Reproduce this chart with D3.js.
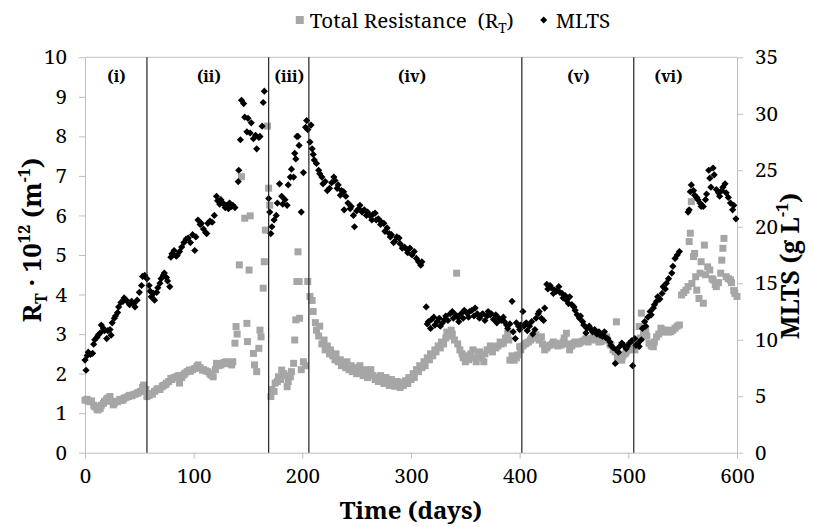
<!DOCTYPE html>
<html>
<head>
<meta charset="utf-8">
<script src="https://cdn.jsdelivr.net/npm/d3@7"></script>
<style>
  body { margin: 0; background: #fff; }
</style>
</head>
<body>
<svg id="chart" width="814" height="527"></svg>
<script>
// tick values
const dayTicks = [0, 100, 200, 300, 400, 500, 600];
const resistanceTicks = [0, 1, 2, 3, 4, 5, 6, 7, 8, 9, 10];
const mltsTicks = [0, 5, 10, 15, 20, 25, 30, 35];

// operating periods: boundaries (days) and labels
const periodBounds = [57, 169, 206, 402, 505];
const periodLabels = ['(i)', '(ii)', '(iii)', '(iv)', '(v)', '(vi)'];
const periodLabelDays = [29, 114, 188, 301, 454, 537];

// total resistance R_T (x 10^12 m-1), [day, value]
const resistance = [
  [0, 1.33], [2, 1.35], [3, 1.3], [5, 1.29], [6, 1.31], [8, 1.2], [9, 1.16], [11, 1.1], [12, 1.08],
  [14, 1.12], [15, 1.2], [17, 1.25], [18, 1.3], [20, 1.35], [21, 1.38], [23, 1.42], [24, 1.3],
  [26, 1.21], [27, 1.25], [29, 1.3], [30, 1.29], [32, 1.35], [33, 1.32], [35, 1.33], [36, 1.38],
  [38, 1.4], [40, 1.42], [41, 1.45], [43, 1.44], [44, 1.46], [46, 1.48], [48, 1.5], [49, 1.52],
  [51, 1.55], [53, 1.65], [54, 1.71], [56, 1.6], [57, 1.42],
  [59, 1.45], [61, 1.5], [62, 1.48], [64, 1.55], [66, 1.59], [67, 1.62], [69, 1.6], [71, 1.67],
  [72, 1.7], [74, 1.72], [75, 1.76], [77, 1.8], [79, 1.88], [80, 1.85], [82, 1.9], [84, 1.92],
  [86, 1.95], [87, 1.76], [89, 1.9], [91, 1.97], [92, 2.01], [94, 2.05], [96, 2.09], [97, 2.06],
  [99, 2.1], [101, 2.13], [103, 2.18], [104, 2.22], [106, 2.15], [108, 2.09], [109, 2.1], [111, 2.07],
  [113, 2.05], [115, 2.0], [116, 1.96], [118, 1.92], [120, 2.1], [121, 2.26], [123, 2.2], [125, 2.22],
  [126, 2.25], [128, 2.28], [130, 2.3], [131, 2.26], [133, 2.25], [135, 2.22], [136, 2.3], [138, 2.77],
  [139, 3.19], [140, 3.0], [142, 4.75], [144, 6.98], [147, 5.93], [149, 3.27], [149.5, 2.81],
  [151, 4.62], [152, 5.99], [155, 2.51], [156, 2.22], [158, 2.05], [160, 2.64], [161, 3.1],
  [162, 2.93], [164, 4.16], [165, 4.83], [166, 5.63], [168, 8.26], [169, 6.69], [170, 6.26],
  [171, 1.42], [172, 1.6], [174, 1.55], [175, 1.76], [177, 1.8], [178, 1.92], [180, 1.85], [181, 2.09],
  [183, 2.0], [184, 1.95], [186, 1.67], [187, 1.8], [189, 1.92], [190, 2.05], [192, 2.26], [193, 2.85],
  [194, 3.36], [195, 4.33], [196, 5.08], [197, 4.33], [197.5, 3.4], [199, 2.1], [201, 2.3],
  [203, 2.2], [205, 4.33],
  [207, 3.95], [209, 3.85], [210, 3.57], [212, 3.29], [213, 3.1], [215, 2.95], [216, 3.2], [218, 2.75],
  [220, 2.85], [221, 2.6], [223, 2.7], [225, 2.5], [226, 2.6], [228, 2.45], [230, 2.35], [231, 2.5],
  [233, 2.3], [235, 2.35], [236, 2.2], [238, 2.25], [240, 2.15], [241, 2.3], [243, 2.1], [245, 2.2],
  [246, 2.05], [248, 2.15], [250, 2.0], [251, 2.1], [253, 2.2], [255, 2.05], [256, 1.95], [258, 2.1],
  [260, 1.9], [262, 2.0], [263, 2.1], [265, 1.95], [267, 1.85], [268, 1.9], [270, 1.8], [272, 1.95],
  [273, 1.85], [275, 1.75], [277, 1.9], [278, 1.8], [280, 1.7], [282, 1.85], [283, 1.75], [285, 1.68],
  [287, 1.8], [288, 1.72], [290, 1.65], [292, 1.78], [293, 1.7], [295, 1.82], [297, 1.75], [298, 1.9],
  [300, 1.85], [302, 2.0], [303, 1.9], [305, 2.1], [307, 2.05], [308, 2.2], [310, 2.15], [312, 2.3],
  [313, 2.2], [315, 2.4], [317, 2.35], [318, 2.5], [320, 2.45], [322, 2.6], [323, 2.55], [325, 2.7],
  [327, 2.65], [328, 2.8], [330, 2.75], [332, 2.9], [333, 3.05], [335, 2.95], [337, 3.1], [338, 3.0],
  [340, 2.85], [342, 4.54], [343, 2.75], [345, 2.6], [347, 2.5], [348, 2.4], [350, 2.3], [352, 2.45],
  [353, 2.35], [355, 2.5], [357, 2.6], [358, 2.4], [360, 2.3], [362, 2.45], [363, 2.55], [365, 2.4],
  [367, 2.3], [368, 2.5], [370, 2.6], [372, 2.6], [373, 2.7], [375, 2.55], [377, 2.68], [378, 2.65],
  [380, 2.7], [382, 2.8], [383, 2.75], [385, 2.77], [387, 2.9], [389, 3.02], [390, 2.85], [391, 2.34],
  [393, 2.45], [395, 2.34], [397, 2.4], [398, 2.47], [400, 2.68], [401, 2.6],
  [403, 2.7], [405, 2.75], [406, 2.77], [408, 2.8], [410, 2.85], [411, 2.89], [413, 2.95], [415, 2.98],
  [416, 2.9], [418, 2.85], [420, 2.93], [421, 2.75], [423, 2.6], [425, 2.65], [426, 2.7], [428, 2.72],
  [430, 2.75], [431, 2.8], [433, 2.77], [435, 2.7], [436, 2.75], [438, 2.72], [440, 2.8], [441, 2.9],
  [443, 3.02], [444, 2.75], [446, 2.6], [448, 2.7], [450, 2.77], [451, 2.8], [453, 2.75], [455, 2.77],
  [456, 2.8], [458, 2.82], [460, 2.85], [461, 2.88], [463, 2.8], [465, 2.85], [466, 2.89], [468, 2.92],
  [470, 2.89], [471, 2.85], [473, 2.8], [475, 2.81], [476, 2.85], [478, 2.9], [480, 2.93], [481, 2.85],
  [483, 2.75], [484, 2.72], [486, 2.6], [488, 2.55], [489, 3.31], [490, 2.43], [492, 2.38], [494, 2.34],
  [495, 2.45], [497, 2.5], [498, 2.55], [500, 2.6], [502, 2.65], [503, 2.68], [505, 2.62],
  [506, 2.6], [508, 2.7], [510, 3.19], [511, 2.9], [512, 3.53], [514, 3.0], [516, 3.1], [517, 2.95],
  [519, 2.77], [521, 2.7], [523, 2.68], [524, 2.8], [526, 2.93], [528, 3.0], [530, 3.15], [531, 3.05],
  [533, 3.1], [535, 3.1], [537, 3.05], [539, 3.06], [541, 3.1], [543, 3.15], [545, 3.2], [547, 3.23],
  [549, 3.99], [551, 4.05], [553, 4.11], [555, 4.2], [556, 5.34], [557, 5.55], [558, 6.35], [558.5, 4.28],
  [560, 4.96], [561, 5.04], [562, 4.45], [563, 4.11], [565, 3.9], [566, 4.54], [567, 4.83], [569, 3.78],
  [570, 5.25], [571, 4.5], [573, 4.7], [575, 4.62], [577, 4.4], [578, 4.37], [580, 4.25], [581, 4.2],
  [583, 4.3], [585, 4.54], [586, 4.87], [587, 5.17], [588, 5.42], [590, 4.45], [592, 4.4], [594, 4.37],
  [595, 4.3], [597, 4.1], [598, 4.03], [600, 3.95]
];

// mixed liquor total solids (g L-1), [day, value]
const mlts = [
  [0, 8.2], [1, 7.3], [2, 8.6], [3, 8.9], [5, 8.7], [7, 8.8], [8, 9.6], [9, 10.0], [11, 10.2], [12, 10.4],
  [14, 10.6], [15, 11.3], [17, 11.0], [18, 10.8], [20, 10.1], [21, 10.8], [23, 10.9], [24, 10.4],
  [25, 11.5], [27, 11.9], [28, 12.1], [30, 12.4], [31, 12.9], [33, 13.3], [35, 13.4], [36, 13.7],
  [38, 13.5], [40, 13.3], [41, 13.1], [43, 13.4], [45, 13.2], [46, 12.9], [48, 13.5], [50, 14.2],
  [52, 14.8], [53, 15.6], [55, 15.7], [57, 15.4],
  [59, 14.8], [60, 14.3], [61, 13.8], [63, 14.1], [64, 13.5], [66, 14.2], [67, 14.6], [69, 15.0],
  [70, 15.4], [72, 15.7], [73, 15.9], [75, 15.5], [76, 15.2], [78, 14.7], [79, 17.3], [80, 17.6],
  [82, 17.9], [84, 17.4], [85, 17.5], [87, 17.8], [89, 18.2], [91, 18.6], [93, 18.9], [95, 19.0],
  [97, 18.6], [99, 19.3], [101, 17.9], [102, 19.1], [104, 20.6], [106, 20.2], [107, 20.3], [109, 19.8],
  [111, 19.5], [112, 19.4], [113, 20.3], [115, 20.5], [117, 20.4], [119, 21.0], [121, 22.7], [122, 22.3],
  [124, 22.0], [125, 22.4], [127, 22.1], [129, 21.7], [130, 21.9], [132, 21.6], [133, 22.1], [135, 21.8],
  [136, 21.9], [138, 21.7], [141, 24.0], [141.5, 25.0], [143, 27.7], [144, 31.2], [146, 30.9],
  [147, 29.7], [149, 28.4], [150, 29.6], [152, 28.3], [153, 29.2], [155, 27.8], [157, 28.1], [158, 26.9],
  [160, 27.9], [161, 28.0], [163, 28.9], [164, 31.0], [165, 32.0],
  [169, 22.5], [170, 21.3], [171, 19.4], [172, 20.0], [174, 20.6], [176, 21.0], [177, 22.1], [179, 23.8],
  [181, 22.7], [182, 22.0], [184, 22.4], [186, 21.9], [187, 23.7], [189, 24.4], [190, 25.1], [192, 24.4],
  [193, 26.5], [194, 26.0], [195, 28.0], [196, 28.0], [197, 27.2], [199, 21.3], [201, 24.8], [203, 28.8],
  [204, 29.4], [205, 28.6],
  [207, 27.5], [208, 29.0], [209, 26.9], [210, 26.4], [211, 25.9], [213, 25.6], [215, 25.0], [216, 24.7],
  [218, 24.4], [219, 23.8], [221, 24.0], [223, 23.2], [225, 23.4], [227, 23.9], [229, 24.4], [230, 24.1],
  [232, 23.4], [233, 23.7], [235, 22.8], [236, 23.2], [238, 23.1], [238.5, 21.5], [240, 22.7],
  [242, 22.1], [244, 21.6], [245, 21.8], [247, 21.0], [248, 20.0], [250, 21.4], [252, 21.6], [253, 21.9],
  [255, 21.3], [257, 21.5], [259, 21.0], [260, 21.3], [262, 21.0], [264, 20.6], [265, 21.1], [267, 21.2],
  [268, 20.6], [270, 20.7], [272, 20.2], [273, 20.4], [275, 20.3], [276, 19.6], [278, 19.9], [280, 19.4],
  [281, 19.1], [282, 19.3], [284, 18.6], [285, 18.7], [287, 19.1], [289, 19.0], [290, 18.5], [292, 18.1],
  [294, 18.2], [296, 18.0], [297, 17.7], [299, 18.1], [301, 17.5], [303, 17.8], [305, 17.2], [307, 16.9],
  [309, 16.6], [310, 16.9],
  [314, 12.9], [315, 11.4], [316, 11.6], [318, 11.0], [319, 11.8], [321, 12.0], [322, 11.3], [324, 11.6],
  [326, 11.9], [327, 11.2], [329, 11.5], [331, 11.8], [332, 12.1], [334, 11.7], [336, 12.3], [338, 12.5],
  [339, 11.9], [341, 12.2], [343, 12.0], [344, 11.6], [346, 12.3], [348, 11.9], [349, 12.6], [351, 12.4],
  [353, 12.0], [354, 12.5], [356, 12.6], [358, 12.1], [359, 12.8], [361, 12.3], [363, 11.9], [365, 12.2],
  [366, 12.3], [368, 11.7], [370, 12.1], [371, 12.5], [373, 12.2], [374, 12.3], [376, 11.8], [378, 12.2],
  [379, 11.5], [381, 11.9], [383, 11.7], [385, 12.0], [386, 11.6], [388, 11.3], [389, 11.0], [391, 11.4],
  [393, 13.4], [394, 10.7], [396, 10.1], [397, 11.5], [399, 11.2], [400, 10.9], [401, 11.3],
  [403, 12.5], [404, 11.2], [406, 11.5], [407, 10.8], [409, 11.2], [411, 11.6], [412, 10.5], [414, 10.9],
  [415, 11.9], [417, 12.3], [418, 12.5], [420, 11.9], [422, 11.7], [423, 12.8], [425, 14.9], [426, 14.5],
  [428, 14.8], [429, 14.6], [431, 14.1], [432, 14.4], [434, 14.3], [436, 14.7], [437, 14.2], [439, 14.1],
  [440, 13.7], [442, 13.9], [443, 13.5], [445, 13.2], [446, 13.8], [448, 13.1], [450, 12.9], [451, 12.6],
  [453, 12.2], [455, 11.9], [456, 12.1], [458, 11.6], [459, 11.3], [461, 10.6], [462, 11.0], [464, 11.2],
  [466, 10.9], [467, 10.7], [469, 10.9], [471, 10.5], [473, 10.7], [474, 10.4], [476, 10.3], [478, 10.7],
  [479, 10.2], [481, 10.1], [483, 9.8], [484, 9.5], [486, 9.3], [488, 7.9], [489, 9.1], [491, 8.9],
  [492, 9.4], [494, 9.7], [496, 9.5], [498, 9.2], [499, 9.4], [501, 9.7], [503, 9.9], [504, 7.7],
  [506, 10.1], [507, 9.5], [509, 9.7], [510, 9.4], [512, 10.0], [513, 11.0], [515, 11.6], [516, 11.2],
  [518, 12.0], [520, 12.5], [521, 12.2], [523, 12.8], [524, 13.1], [526, 13.4], [527, 13.8], [529, 13.6],
  [531, 14.1], [532, 14.7], [534, 14.5], [535, 15.0], [537, 15.4], [540, 15.9], [541, 16.5], [543, 17.2],
  [545, 17.5], [547, 17.8], [555, 21.3], [556, 21.5], [557, 23.1], [558, 23.7], [560, 23.2], [561, 22.8],
  [563, 22.6], [564, 22.4], [566, 22.1], [567, 21.8], [569, 21.8], [571, 22.4], [572, 22.9], [574, 25.0],
  [575, 24.3], [576, 23.5], [578, 25.2], [579, 24.6], [581, 23.3], [583, 23.0], [584, 22.7], [586, 23.2],
  [587, 23.5], [589, 23.8], [590, 23.0], [592, 22.6], [594, 22.1], [596, 21.5], [597, 21.9], [599, 20.7]
];

// pick the first serif face that really differs from the generic fallbacks;
// sizes below are Times sizes, rescaled to that face's width
const ctx = document.createElement('canvas').getContext('2d');
function hasFont(name) {
  const probe = 'mmmmmmmmmmlliWWQ0123';
  return ['monospace', 'sans-serif', 'serif'].every((base) => {
    ctx.font = `40px ${base}`;
    const w0 = ctx.measureText(probe).width;
    ctx.font = `40px "${name}", ${base}`;
    return ctx.measureText(probe).width !== w0;
  });
}
const serifNames = ['Liberation Serif', 'Tinos', 'Nimbus Roman', 'Noto Serif', 'DejaVu Serif',
  'FreeSerif', 'Times New Roman', 'Times'];
const found = serifNames.find(hasFont);
const fontFace = found ? `"${found}"` : '"Liberation Sans", Arial, sans-serif';
function widthRatio(weight, str, timesEm) {
  ctx.font = `${weight} 100px ${fontFace}`;
  return Math.min(1, (timesEm * 100) / ctx.measureText(str).width);
}
const rText = widthRatio('normal', 'Total Resistance', 6.538);
const rBold = widthRatio('bold', 'Time (days)', 5.083);
const rDigit = widthRatio('normal', '0123456789', 5);
const px = (n, r) => `${(n * r).toFixed(1)}px`;

const svg = d3.select('#chart').style('font-family', fontFace);
const axisGrey = '#bfbfbf';
const squareGrey = '#a6a6a6';

const x = d3.scaleLinear().domain([0, 600]).range([85, 737]);
const yLeft = d3.scaleLinear().domain([0, 10]).range([452.7, 57.3]);
const yRight = d3.scaleLinear().domain([0, 35]).range([452.7, 57.3]);

// plot frame top edge
svg.append('line')
  .attr('x1', x(0)).attr('x2', x(600))
  .attr('y1', yLeft(10)).attr('y2', yLeft(10))
  .attr('stroke', axisGrey);

// axes
function styleAxis(g) {
  g.attr('font-family', fontFace).attr('font-size', px(23, rDigit));
  g.selectAll('.domain').attr('stroke', axisGrey);
  g.selectAll('.tick line').attr('stroke', axisGrey);
  g.selectAll('.tick text').attr('fill', '#000');
}

svg.append('g')
  .attr('transform', `translate(0,${yLeft(0)})`)
  .call(d3.axisBottom(x).tickValues(dayTicks).tickSize(6).tickPadding(10).tickSizeOuter(0))
  .call(styleAxis);

svg.append('g')
  .attr('transform', `translate(${x(0)},0)`)
  .call(d3.axisLeft(yLeft).tickValues(resistanceTicks).tickSize(6).tickPadding(12).tickSizeOuter(0))
  .call(styleAxis);

svg.append('g')
  .attr('transform', `translate(${x(600)},0)`)
  .call(d3.axisRight(yRight).tickValues(mltsTicks).tickSize(6).tickPadding(12).tickSizeOuter(0))
  .call(styleAxis);

// markers
const sq = 7;
svg.append('g').selectAll('rect')
  .data(resistance)
  .join('rect')
  .attr('x', (d) => x(d[0]) - sq / 2)
  .attr('y', (d) => yLeft(d[1]) - sq / 2)
  .attr('width', sq)
  .attr('height', sq)
  .attr('fill', squareGrey);

const dr = 3.6;
const diamond = `M0,${-dr}L${dr},0L0,${dr}L${-dr},0Z`;
svg.append('g').selectAll('path')
  .data(mlts)
  .join('path')
  .attr('transform', (d) => `translate(${x(d[0])},${yRight(d[1])})`)
  .attr('d', diamond)
  .attr('fill', '#000');

// period separators and labels
svg.append('g').selectAll('line')
  .data(periodBounds)
  .join('line')
  .attr('x1', (d) => x(d)).attr('x2', (d) => x(d))
  .attr('y1', yLeft(10)).attr('y2', yLeft(0))
  .attr('stroke', '#222')
  .attr('stroke-width', 1.2);

svg.append('g').selectAll('text')
  .data(periodLabels)
  .join('text')
  .attr('x', (d, i) => x(periodLabelDays[i]))
  .attr('y', 82)
  .attr('text-anchor', 'middle')
  .style('font-size', px(18.5, rBold))
  .style('font-weight', 'bold')
  .text((d) => d);

// legend, laid out left to right and centred over the plot
const legend = svg.append('g');
legend.append('rect')
  .attr('x', 0).attr('y', -5).attr('width', 8).attr('height', 8)
  .attr('fill', squareGrey);
const lt = legend.append('text')
  .attr('x', 14).attr('y', 7)
  .style('font-size', px(24, rText))
  .style('white-space', 'pre');
lt.append('tspan').text('Total Resistance  (R');
lt.append('tspan').attr('dy', 5).style('font-size', px(16, rText)).text('T');
lt.append('tspan').attr('dy', -5).text(')');
const mx = 14 + lt.node().getComputedTextLength() + 30;
legend.append('path')
  .attr('transform', `translate(${mx},-1)`)
  .attr('d', 'M0,-3.5L3.5,0L0,3.5L-3.5,0Z')
  .attr('fill', '#000');
const mt = legend.append('text')
  .attr('x', mx + 12).attr('y', 7)
  .style('font-size', px(24, rText))
  .text('MLTS');
const legendWidth = mx + 12 + mt.node().getComputedTextLength();
legend.attr('transform', `translate(${453 - legendWidth / 2},21)`);

// axis titles
svg.append('text')
  .attr('x', x(300)).attr('y', 519)
  .attr('text-anchor', 'middle')
  .style('font-size', px(28, rBold))
  .style('font-weight', 'bold')
  .text('Time (days)');

const leftTitle = svg.append('text')
  .attr('transform', 'translate(41,240) rotate(-90)')
  .attr('text-anchor', 'middle')
  .style('font-size', px(30, rBold))
  .style('font-weight', 'bold')
  .style('white-space', 'pre');
leftTitle.append('tspan').text('R');
leftTitle.append('tspan').attr('dy', 6).style('font-size', px(19, rBold)).text('T');
leftTitle.append('tspan').attr('dy', -6).text(' · 10');
leftTitle.append('tspan').attr('dy', -11).style('font-size', px(19, rBold)).text('12');
leftTitle.append('tspan').attr('dy', 11).text(' (m');
leftTitle.append('tspan').attr('dy', -11).style('font-size', px(19, rBold)).text('-1');
leftTitle.append('tspan').attr('dy', 11).text(')');

const rightTitle = svg.append('text')
  .attr('transform', 'translate(799,266) rotate(-90)')
  .attr('text-anchor', 'middle')
  .style('font-size', px(29, rBold))
  .style('font-weight', 'bold')
  .style('white-space', 'pre');
rightTitle.append('tspan').text('MLTS (g L');
rightTitle.append('tspan').attr('dy', -11).style('font-size', px(19, rBold)).text('-1');
rightTitle.append('tspan').attr('dy', 11).text(')');
</script>
</body>
</html>
